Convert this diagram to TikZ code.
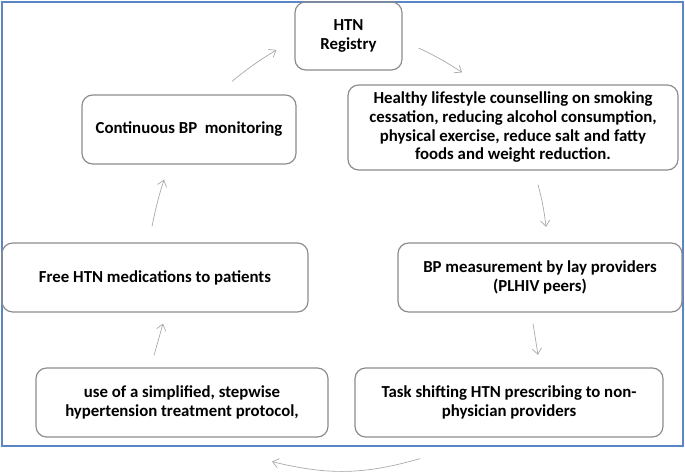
\documentclass[tikz,border=0pt]{standalone}
\usepackage{fontspec}
\setmainfont{Carlito}
\usetikzlibrary{positioning,arrows.meta,calc}

\definecolor{framblue}{HTML}{5B86C5}
\definecolor{boxgray}{HTML}{8C8C8C}
\definecolor{flowgray}{HTML}{A6A6A6}

\tikzset{
  stepbox/.style={draw=boxgray, line width=0.9pt, rounded corners=8pt, align=center,
    font=\fontsize{12.6}{14}\selectfont\bfseries, inner sep=2pt},
  flow/.style={draw=flowgray, line width=0.5pt, -{Straight Barb[length=4.5pt,width=7pt]}}
}

\begin{document}
\begin{tikzpicture}[x=0.75pt, y=0.75pt]
        \useasboundingbox (0,0) rectangle (685,475);
        % Rahmen
        \draw[framblue, line width=0.8pt] (2,29) rectangle (683,473);

        % Kaesten
        \node[stepbox, minimum width=107*0.75pt, minimum height=68*0.75pt] (reg) at (348.5,439) {HTN\\Registry};
        \node[stepbox, minimum width=330*0.75pt, minimum height=85*0.75pt] (life) at (513,347.5)
          {Healthy lifestyle counselling on smoking\\cessation, reducing alcohol consumption,\\physical exercise, reduce salt and fatty\\foods and weight reduction.};
        \node[stepbox, minimum width=214*0.75pt, minimum height=69*0.75pt] (cont) at (189,345.5) {Continuous BP~~monitoring};
        \node[stepbox, minimum width=284*0.75pt, minimum height=69*0.75pt] (bpm) at (540,197.5)
          {BP measurement by lay providers\\(PLHIV peers)};
        \node[stepbox, minimum width=306*0.75pt, minimum height=69*0.75pt] (free) at (155,197.5) {Free HTN medications to patients};
        \node[stepbox, minimum width=292*0.75pt, minimum height=69*0.75pt] (proto) at (182,72.5)
          {use of a simplified, stepwise\\hypertension treatment protocol,};
        \node[stepbox, minimum width=308*0.75pt, minimum height=69*0.75pt] (task) at (509,72.5)
          {Task shifting HTN prescribing to non-\\physician providers};

        % Pfeile
        \draw[flow] ([shift={(43,13)}]cont.north) to[bend left=4] ([shift={(-18,-14)}]reg.west);
        \draw[flow] ([shift={(16,-12)}]reg.east) to[bend left=4] ([shift={(-51,12)}]life.north);
        \draw[flow] ([shift={(25,-14)}]life.south) to[bend left=4] ([shift={(6,15.5)}]bpm.north);
        \draw[flow] ([shift={(-7,-11)}]bpm.south) to ([shift={(29,12.5)}]task.north);
        \draw[flow] ([shift={(-89,-21)}]task.south) to[bend left=15] ([shift={(90,-24)}]proto.south);
        \draw[flow] ([shift={(-28,12)}]proto.north) to ([shift={(8,-11)}]free.south);
        \draw[flow] ([shift={(-3,16)}]free.north) to[bend left=3] ([shift={(-25,-15)}]cont.south);
    \end{tikzpicture}
\end{document}
